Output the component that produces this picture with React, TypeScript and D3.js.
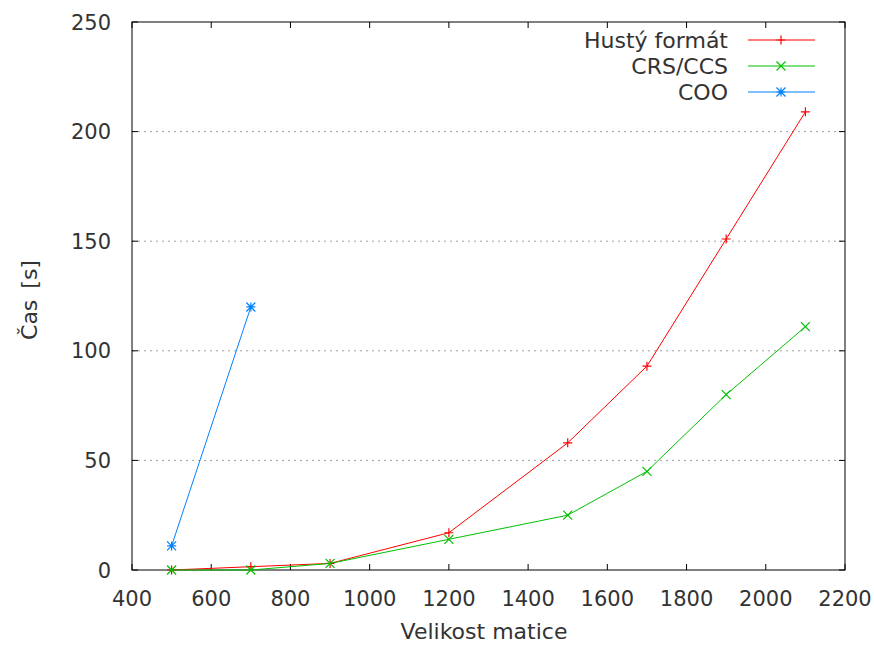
import * as d3 from "d3";

const sizes = [500, 700, 900, 1200, 1500, 1700, 1900, 2100];
const dense = [0, 1.5, 3, 17, 58, 93, 151, 209];
const crs = [0, 0, 3, 14, 25, 45, 80, 111];
const cooSizes = [500, 700];
const coo = [11, 120];

const xTicks = [400, 600, 800, 1000, 1200, 1400, 1600, 1800, 2000, 2200];
const yTicks = [0, 50, 100, 150, 200, 250];

const series = [
  { name: "Hustý formát", color: "#ff0000", marker: "plus", xs: sizes, ys: dense },
  { name: "CRS/CCS", color: "#00c000", marker: "cross", xs: sizes, ys: crs },
  { name: "COO", color: "#0080ff", marker: "star", xs: cooSizes, ys: coo },
];

const W = 874, H = 645;
const left = 132, right = 845, top = 22, bottom = 570;
const font = "DejaVu Sans, sans-serif";
const txt = "#333";

function Marker({ x, y, type, color }: { x: number; y: number; type: string; color: string }) {
  const s = 4.5;
  const plus = `M${x - s},${y}H${x + s}M${x},${y - s}V${y + s}`;
  const cross = `M${x - s},${y - s}L${x + s},${y + s}M${x - s},${y + s}L${x + s},${y - s}`;
  const d = type === "plus" ? plus : type === "cross" ? cross : plus + cross;
  return <path d={d} stroke={color} strokeWidth={1.2} fill="none" />;
}

export default function App() {
  const x = d3.scaleLinear().domain([400, 2200]).range([left, right]);
  const y = d3.scaleLinear().domain([0, 250]).range([bottom, top]);
  const line = d3.line<[number, number]>().x(d => x(d[0])).y(d => y(d[1]));

  return (
    <svg width={W} height={H} style={{ position: "absolute", left: 0, top: 0, background: "#fff" }}
      fontFamily={font}>
      <rect x={0} y={0} width={W} height={H} fill="#fff" />
      {yTicks.filter(t => t > 0 && t < 250).map(t => (
        <line key={"g" + t} x1={left} x2={right} y1={y(t)} y2={y(t)}
          stroke="#a0a0a0" strokeWidth={1} strokeDasharray="2,4" />
      ))}
      {yTicks.map(t => (
        <g key={"y" + t}>
          <line x1={left} x2={left + 6} y1={y(t)} y2={y(t)} stroke="#000" />
          <line x1={right} x2={right - 6} y1={y(t)} y2={y(t)} stroke="#000" />
          <text x={left - 21} y={y(t)} dy="0.36em" textAnchor="end" fontSize={21} fill={txt}>{t}</text>
        </g>
      ))}
      {xTicks.map(t => (
        <g key={"x" + t}>
          <line x1={x(t)} x2={x(t)} y1={bottom} y2={bottom - 6} stroke="#000" />
          <line x1={x(t)} x2={x(t)} y1={top} y2={top + 6} stroke="#000" />
          <text x={x(t)} y={bottom + 36} textAnchor="middle" fontSize={21} fill={txt}>{t}</text>
        </g>
      ))}
      <rect x={left} y={top} width={right - left} height={bottom - top} fill="none" stroke="#000" strokeWidth={1} />
      <text x={484} y={639} textAnchor="middle" fontSize={22} fill={txt}>Velikost matice</text>
      <text transform={`translate(37,300) rotate(-90)`} textAnchor="middle" fontSize={22} fill={txt}
        wordSpacing={4}>Čas [s]</text>
      {series.map(s => {
        const pts = s.xs.map((v, i) => [v, s.ys[i]] as [number, number]);
        return (
          <g key={s.name}>
            <path d={line(pts) || ""} stroke={s.color} strokeWidth={1} fill="none" />
            {pts.map((p, i) => <Marker key={i} x={x(p[0])} y={y(p[1])} type={s.marker} color={s.color} />)}
          </g>
        );
      })}
      {series.map((s, i) => {
        const ly = 40 + i * 26;
        return (
          <g key={"l" + s.name}>
            <text x={728} y={ly} dy="0.36em" textAnchor="end" fontSize={22} fill={txt}>{s.name}</text>
            <line x1={748} x2={815} y1={ly} y2={ly} stroke={s.color} strokeWidth={1} />
            <Marker x={781} y={ly} type={s.marker} color={s.color} />
          </g>
        );
      })}
    </svg>
  );
}
